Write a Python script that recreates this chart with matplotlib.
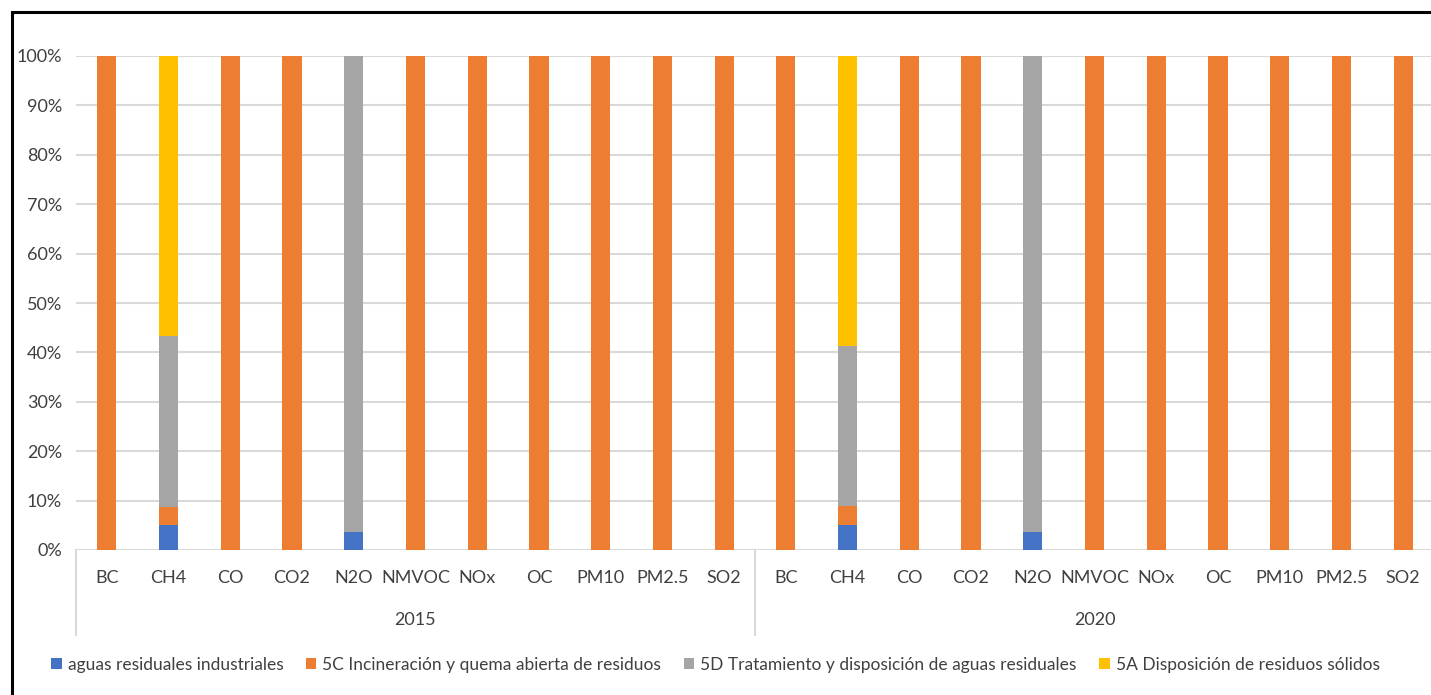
import numpy as np
import matplotlib
matplotlib.use("Agg")
import matplotlib.pyplot as plt
from matplotlib.patches import Rectangle
import matplotlib.transforms as mtransforms

plt.rcParams['font.family'] = ['Lato', 'DejaVu Sans']

# contaminantes por año
pollutants = ["BC", "CH4", "CO", "CO2", "N2O", "NMVOC", "NOx", "OC", "PM10", "PM2.5", "SO2"]
years = ["2015", "2020"]

# participación (%) de cada fuente, 2015 seguido de 2020
aguas_ind = [0, 5.1, 0, 0, 3.6, 0, 0, 0, 0, 0, 0,
             0, 5.0, 0, 0, 3.6, 0, 0, 0, 0, 0, 0]
incineracion = [100, 3.6, 100, 100, 0, 100, 100, 100, 100, 100, 100,
                100, 4.0, 100, 100, 0, 100, 100, 100, 100, 100, 100]
tratamiento = [0, 34.6, 0, 0, 96.4, 0, 0, 0, 0, 0, 0,
               0, 32.2, 0, 0, 96.4, 0, 0, 0, 0, 0, 0]
solidos = [0, 56.7, 0, 0, 0, 0, 0, 0, 0, 0, 0,
           0, 58.8, 0, 0, 0, 0, 0, 0, 0, 0, 0]

series = [
    ("aguas residuales industriales", aguas_ind, "#4472C4"),
    ("5C Incineración y quema abierta de residuos", incineracion, "#ED7D31"),
    ("5D Tratamiento y disposición de aguas residuales", tratamiento, "#A5A5A5"),
    ("5A Disposición de residuos sólidos", solidos, "#FFC000"),
]

W, H = 1431, 695
fig = plt.figure(figsize=(W / 100, H / 100), dpi=100)
ax = fig.add_axes([76 / W, (H - 550) / H, (1434 - 76) / W, 494 / H])

labels = pollutants * len(years)
x = np.arange(len(labels))
bottom = np.zeros(len(labels))
for name, vals, color in series:
    vals = np.array(vals, dtype=float)
    ax.bar(x, vals, 0.31, bottom=bottom, color=color, label=name, zorder=3)
    bottom += vals

ax.set_xlim(-0.5, len(labels) - 0.5)
ax.set_ylim(0, 100)
ax.set_yticks(np.arange(0, 101, 10))
ax.set_yticklabels([f"{v}%" for v in range(0, 101, 10)])
ax.tick_params(axis='y', length=0, labelsize=13, colors="#404040", pad=10)
ax.set_xticks([])
ax.grid(axis='y', color="#d9d9d9", linewidth=1.5, zorder=0)
for s in ax.spines.values():
    s.set_visible(False)

trans = mtransforms.blended_transform_factory(ax.transData, ax.transAxes)
for xi, lab in zip(x, labels):
    ax.text(xi, -0.057, lab, transform=trans, ha='center', va='center',
            fontsize=13, color="#404040")
n = len(pollutants)
for gi, yr in enumerate(years):
    ax.text(gi * n + (n - 1) / 2, -0.142, yr, transform=trans, ha='center',
            va='center', fontsize=13, color="#404040")
for sep in [-0.5, n - 0.5, 2 * n - 0.5]:
    ax.plot([sep, sep], [0, -0.172], transform=trans, color="#d9d9d9",
            linewidth=1.5, clip_on=False)

fig.legend(loc='center', bbox_to_anchor=(0.5, 30 / H), ncol=4, frameon=False,
           fontsize=12.5, handlelength=0.6, handleheight=0.6, handletextpad=0.35,
           columnspacing=1.3, labelcolor="#404040")

# marco exterior
fig.patches.append(Rectangle((12 / W, -0.05), 1.1, (H - 12) / H + 0.05,
                             transform=fig.transFigure, fill=False,
                             edgecolor="black", linewidth=2.2))

fig.savefig("out.png", dpi=100)
